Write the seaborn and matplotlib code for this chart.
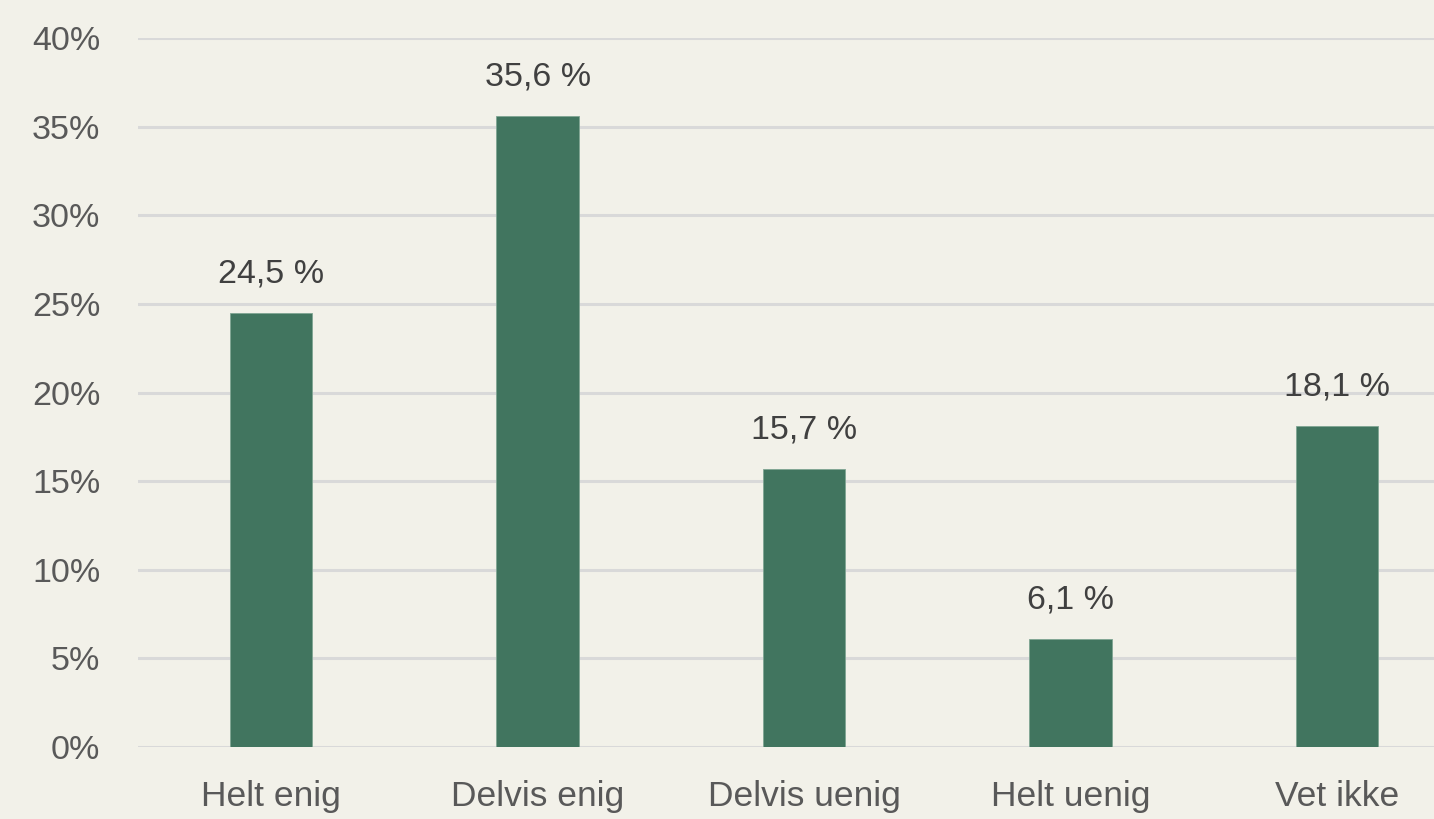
import pandas as pd
import seaborn as sns
import matplotlib.pyplot as plt
from matplotlib.ticker import FuncFormatter

# -------------------------------
# Data
# -------------------------------
categories = ["Helt enig", "Delvis enig", "Delvis uenig", "Helt uenig", "Vet ikke"]
values = [24.5, 35.6, 15.7, 6.1, 18.1]
value_labels = ["24,5 %", "35,6 %", "15,7 %", "6,1 %", "18,1 %"]
yticks = [0, 5, 10, 15, 20, 25, 30, 35, 40]

df = pd.DataFrame({"Svar": categories, "Andel": values})

bg = "#F2F1E9"
bar_color = "#41755F"

sns.set_style("white")
plt.rcParams["font.family"] = ["Liberation Sans", "DejaVu Sans"]

fig = plt.figure(figsize=(14.34, 8.19), dpi=100, facecolor=bg)
ax = fig.add_axes([0.0962, 0.0879, 0.929, 0.8657])
ax.set_facecolor(bg)

sns.barplot(data=df, x="Svar", y="Andel", color=bar_color, width=0.31,
            saturation=1, edgecolor="#7FA593", linewidth=0.6, ax=ax, zorder=3)

for i, (v, lab) in enumerate(zip(values, value_labels)):
    ax.annotate(lab, (i, v), xytext=(0, 17), textcoords="offset points",
                ha="center", va="bottom", fontsize=24.5, color="#404040")

ax.set_ylim(0, 40)
ax.set_xlim(-0.5, 4.5)
ax.set_yticks(yticks)
ax.yaxis.set_major_formatter(FuncFormatter(lambda v, p: f"{int(v)}%"))
ax.grid(axis="y", color="#D9D9D9", linewidth=2.2, zorder=0)
ax.set_axisbelow(True)
for s in ax.spines.values():
    s.set_visible(False)

ax.tick_params(axis="y", length=0, pad=27, labelsize=24.5, labelcolor="#595959")
ax.tick_params(axis="x", length=0, pad=24, labelsize=25.5, labelcolor="#595959")
ax.set_xlabel("")
ax.set_ylabel("")

plt.savefig("out.png", dpi=100, facecolor=bg)
plt.close()
